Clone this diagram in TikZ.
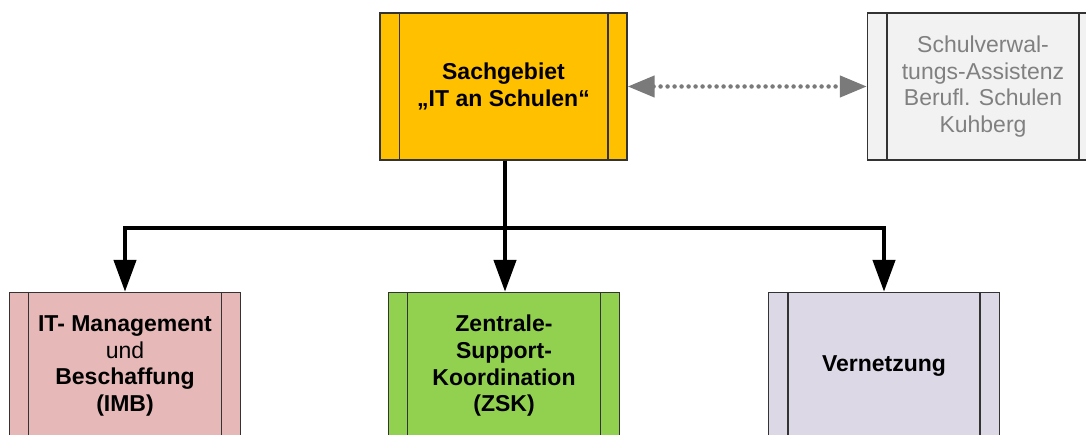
\documentclass[tikz,border=0pt]{standalone}
\usepackage{fontspec}
\setmainfont{Liberation Sans}
\usetikzlibrary{arrows.meta}
\definecolor{orangebox}{HTML}{FFC000}
\definecolor{graybox}{HTML}{F2F2F2}
\definecolor{graytext}{HTML}{808080}
\definecolor{pinkbox}{HTML}{E6B9B8}
\definecolor{greenbox}{HTML}{92D050}
\definecolor{lavbox}{HTML}{DDD8E6}
\definecolor{edge}{HTML}{333333}
\definecolor{dotgray}{HTML}{7A7A7A}
\tikzset{
  orgbox/.style={draw=edge, line width=1.4pt, rectangle, inner sep=0pt,
    minimum height=147pt, align=center,
    font=\fontsize{23}{26.7}\selectfont},
  innerline/.style={draw=edge, line width=1.6pt},
  mainconn/.style={line width=4.5pt, line join=miter, -{Triangle[length=32pt,width=22pt]}},
  sideconn/.style={draw=dotgray, line width=4.5pt, line cap=round, dash pattern=on 0pt off 7pt,
    {Triangle[length=27pt,width=21pt,fill=dotgray,line cap=butt]}-{Triangle[length=27pt,width=21pt,fill=dotgray,line cap=butt]}}
}
\begin{document}
\begin{tikzpicture}[x=1pt,y=1pt]
\useasboundingbox (0,0) rectangle (1086,434);
\clip (0,0) rectangle (1086,434);
\node[orgbox, fill=orangebox, minimum width=247pt] (top) at (503.5,347.5)
  {\bfseries Sachgebiet\\\bfseries „IT an Schulen“};
\node[orgbox, fill=graybox, minimum width=231pt, text=graytext] (gray) at (983,347.5)
  {Schulverwal-\\tungs-Assistenz\\Berufl. Schulen\\Kuhberg};
\node[orgbox, fill=pinkbox, minimum width=231.5pt] (imb) at (125,68)
  {\bfseries IT- Management\\und\\\bfseries Beschaffung\\\bfseries (IMB)};
\node[orgbox, fill=greenbox, minimum width=231.5pt] (zsk) at (504,68)
  {\bfseries Zentrale-\\\bfseries Support-\\\bfseries Koordination\\\bfseries (ZSK)};
\node[orgbox, fill=lavbox, minimum width=231pt] (vern) at (884,68)
  {\bfseries Vernetzung};
\foreach \n in {top,gray,imb,zsk,vern}{
  \draw[innerline] ([xshift=20pt]\n.north west) -- ([xshift=20pt]\n.south west);
  \draw[innerline] ([xshift=-20pt]\n.north east) -- ([xshift=-20pt]\n.south east);
}
\coordinate (junc) at (505,206);
\draw[mainconn] (top.south -| junc) -- (junc) -| (imb.north);
\draw[mainconn] (top.south -| junc) -- (junc) -| (vern.north);
\draw[mainconn] (top.south -| junc) -- (zsk.north -| junc);
\draw[sideconn] (top.east) -- (gray.west);
\end{tikzpicture}
\end{document}
